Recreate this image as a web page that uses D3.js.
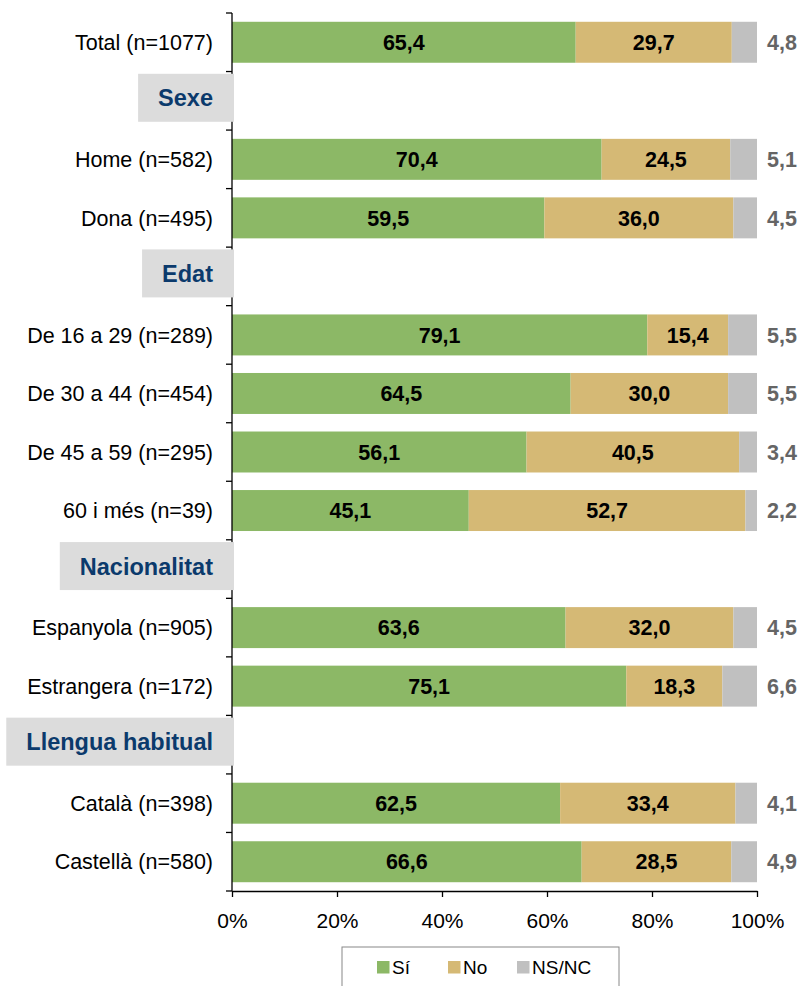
<!DOCTYPE html>
<html>
<head>
<meta charset="utf-8">
<script src="https://cdn.jsdelivr.net/npm/d3@7"></script>
<style>
    body { margin: 0; background: #fff; }
    text { font-family: "Liberation Sans", Arial, sans-serif; }
</style>
</head>
<body>
<div id="chart"></div>
<script>
    // rows from top to bottom, group headers included
    const rows = [
        "Total (n=1077)",
        "Sexe",
        "Home (n=582)",
        "Dona (n=495)",
        "Edat",
        "De 16 a 29 (n=289)",
        "De 30 a 44 (n=454)",
        "De 45 a 59 (n=295)",
        "60 i més (n=39)",
        "Nacionalitat",
        "Espanyola (n=905)",
        "Estrangera (n=172)",
        "Llengua habitual",
        "Català (n=398)",
        "Castellà (n=580)"
    ];
    const headers = ["Sexe", "Edat", "Nacionalitat", "Llengua habitual"];
    const categories = rows.filter(r => !headers.includes(r));

    const seriesNames = ["Sí", "No", "NS/NC"];
    const si   = [65.4, 70.4, 59.5, 79.1, 64.5, 56.1, 45.1, 63.6, 75.1, 62.5, 66.6];
    const no   = [29.7, 24.5, 36.0, 15.4, 30.0, 40.5, 52.7, 32.0, 18.3, 33.4, 28.5];
    const nsnc = [4.8, 5.1, 4.5, 5.5, 5.5, 3.4, 2.2, 4.5, 6.6, 4.1, 4.9];
    const xTicks = [0, 0.2, 0.4, 0.6, 0.8, 1];

    const colors = { "Sí": "#8cb866", "No": "#d5b975", "NS/NC": "#c0c0c0" };

    const width = 809, height = 986;
    const plotLeft = 232, plotRight = 757, plotTop = 13, plotBottom = 891;

    const svg = d3.select("#chart")
        .append("svg")
        .attr("width", width)
        .attr("height", height);

    const table = categories.map((c, i) => ({
        cat: c, "Sí": si[i], "No": no[i], "NS/NC": nsnc[i]
    }));

    const stacked = d3.stack()
        .keys(seriesNames)
        .offset(d3.stackOffsetExpand)(table);

    const x = d3.scaleLinear().domain([0, 1]).range([plotLeft, plotRight]);
    const y = d3.scaleBand()
        .domain(rows)
        .range([plotTop, plotBottom])
        .paddingInner(0.3)
        .paddingOuter(0.15);
    const step = y.step();

    // bars
    const layers = svg.append("g")
        .selectAll("g")
        .data(stacked)
        .join("g")
        .attr("fill", d => colors[d.key]);

    layers.selectAll("rect")
        .data(d => d)
        .join("rect")
        .attr("x", d => x(d[0]))
        .attr("width", d => x(d[1]) - x(d[0]))
        .attr("y", d => y(d.data.cat))
        .attr("height", y.bandwidth());

    // value labels inside the Sí and No segments
    layers.filter(d => d.key !== "NS/NC")
        .selectAll("text")
        .data(d => d.map(p => ({ p, key: d.key })))
        .join("text")
        .attr("x", d => (x(d.p[0]) + x(d.p[1])) / 2)
        .attr("y", d => y(d.p.data.cat) + y.bandwidth() / 2)
        .attr("dy", "0.36em")
        .attr("text-anchor", "middle")
        .attr("font-size", "21.5px")
        .attr("font-weight", "bold")
        .attr("fill", "#000")
        .text(d => d.p.data[d.key].toFixed(1).replace(".", ","));

    // NS/NC labels outside the bar
    svg.append("g")
        .selectAll("text")
        .data(table)
        .join("text")
        .attr("x", plotRight + 10)
        .attr("y", d => y(d.cat) + y.bandwidth() / 2)
        .attr("dy", "0.36em")
        .attr("font-size", "21.5px")
        .attr("font-weight", "bold")
        .attr("fill", "#656565")
        .text(d => d["NS/NC"].toFixed(1).replace(".", ","));

    // y axis line with ticks at band boundaries
    const yAxis = svg.append("g").attr("stroke", "#000").attr("stroke-width", 1.3);
    yAxis.append("line")
        .attr("x1", plotLeft).attr("x2", plotLeft)
        .attr("y1", plotTop).attr("y2", plotBottom);
    yAxis.selectAll("line.tick")
        .data(d3.range(rows.length + 1))
        .join("line")
        .attr("class", "tick")
        .attr("x1", plotLeft - 6).attr("x2", plotLeft)
        .attr("y1", i => plotTop + i * step)
        .attr("y2", i => plotTop + i * step);

    // group header boxes
    const hdr = svg.append("g")
        .selectAll("g")
        .data(headers)
        .join("g");
    hdr.append("text")
        .attr("x", 213)
        .attr("y", d => y(d) + y.bandwidth() / 2 - 3)
        .attr("dy", "0.36em")
        .attr("text-anchor", "end")
        .attr("font-size", "23.5px")
        .attr("font-weight", "bold")
        .attr("fill", "#0b3a6c")
        .text(d => d);
    hdr.insert("rect", "text")
        .attr("fill", "#dcdcdc")
        .each(function(d) {
            const b = this.parentNode.querySelector("text").getBBox();
            d3.select(this)
                .attr("x", b.x - 20)
                .attr("width", 234 - (b.x - 20))
                .attr("y", y(d) + y.bandwidth() / 2 - 27)
                .attr("height", 48);
        });

    // category labels
    svg.append("g")
        .selectAll("text")
        .data(categories)
        .join("text")
        .attr("x", 213)
        .attr("y", d => y(d) + y.bandwidth() / 2)
        .attr("dy", "0.36em")
        .attr("text-anchor", "end")
        .attr("font-size", "21.5px")
        .attr("fill", "#000")
        .text(d => d);

    // x axis
    const xAxis = svg.append("g")
        .attr("transform", `translate(0,${plotBottom})`)
        .call(d3.axisBottom(x).tickValues(xTicks).tickSize(6).tickSizeOuter(0)
            .tickFormat(d3.format(".0%")));
    xAxis.select(".domain").attr("stroke", "#000").attr("stroke-width", 1.3);
    xAxis.selectAll(".tick line").attr("stroke", "#000").attr("stroke-width", 1.3);
    xAxis.selectAll(".tick text")
        .attr("font-size", "21px")
        .attr("font-family", "\"Liberation Sans\", Arial, sans-serif")
        .attr("fill", "#000")
        .attr("y", 22);

    // legend
    const legend = svg.append("g");
    legend.append("rect")
        .attr("x", 342).attr("y", 947)
        .attr("width", 277).attr("height", 50)
        .attr("fill", "#fff")
        .attr("stroke", "#888");
    const legX = [377, 448, 517];
    const item = legend.selectAll("g")
        .data(seriesNames)
        .join("g")
        .attr("transform", (d, i) => `translate(${legX[i]},967)`);
    item.append("rect")
        .attr("x", 0).attr("y", -6)
        .attr("width", 12.5).attr("height", 12.5)
        .attr("fill", d => colors[d]);
    item.append("text")
        .attr("x", 15)
        .attr("dy", "0.36em")
        .attr("font-size", "19px")
        .attr("fill", "#000")
        .text(d => d);
</script>
</body>
</html>
